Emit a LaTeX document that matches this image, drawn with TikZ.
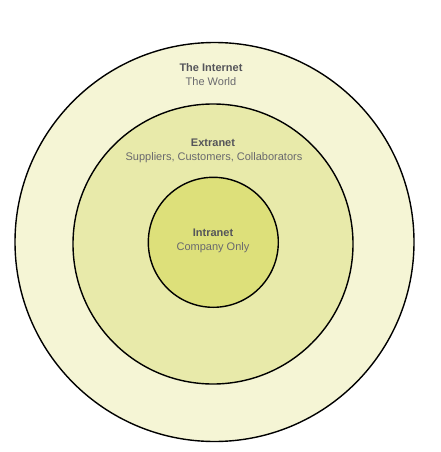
\documentclass[tikz,border=0pt]{standalone}
\usepackage{fontspec}
\setmainfont{Liberation Sans}
\definecolor{outerfill}{RGB}{245,245,213}
\definecolor{midfill}{RGB}{232,234,170}
\definecolor{innerfill}{RGB}{221,224,122}
\definecolor{titlecol}{RGB}{85,85,90}
\definecolor{subcol}{RGB}{105,105,110}
\tikzset{
  ring/.style={circle, draw=black, line width=1.4pt, inner sep=0pt},
  ttl/.style={font=\fontsize{11}{13}\selectfont\bfseries, text=titlecol, inner sep=0pt},
  sub/.style={font=\fontsize{11}{13}\selectfont, text=subcol, inner sep=0pt}
}
\begin{document}
\begin{tikzpicture}[x=1pt,y=-1pt]
\useasboundingbox (0,0) rectangle (441,452);
\node[ring, fill=outerfill, minimum size=399pt] (outer) at (214.5,242) {};
\node[ring, fill=midfill, minimum size=280pt] (mid) at (213,244) {};
\node[ring, fill=innerfill, minimum size=130pt] (inner) at (213.3,242.3) {};
\node[ttl] (t1) at (211,68) {The Internet};
\node[sub] (s1) at (211,82) {The World};
\node[ttl] (t2) at (213,143) {Extranet};
\node[sub] (s2) at (214,158) {Suppliers, Customers, Collaborators};
\node[ttl] (t3) at (213,233) {Intranet};
\node[sub] (s3) at (213,248) {Company Only};
\end{tikzpicture}
\end{document}
